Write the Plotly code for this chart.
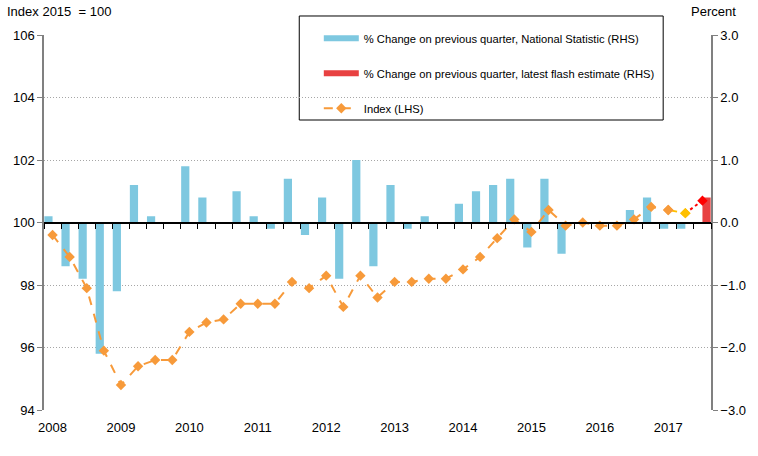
import plotly.graph_objects as go

years = list(range(2008, 2018))
quarters = [f"{y} Q{q}" for y in years for q in range(1, 5)][:39]
year_ticks = [f"{y} Q1" for y in years]
year_labels = [str(y) for y in years]

pct_national = [0.1, -0.7, -0.9, -2.1,
                -1.1, 0.6, 0.1, 0.0,
                0.9, 0.4, 0.0, 0.5,
                0.1, -0.1, 0.7, -0.2,
                0.4, -0.9, 1.0, -0.7,
                0.6, -0.1, 0.1, 0.0,
                0.3, 0.5, 0.6, 0.7,
                -0.4, 0.7, -0.5, 0.0,
                0.0, 0.0, 0.2, 0.4,
                -0.1, -0.1, None]
pct_flash = [None] * 38 + [0.4]
index_vals = [99.6, 98.9, 97.9, 95.9,
              94.8, 95.4, 95.6, 95.6,
              96.5, 96.8, 96.9, 97.4,
              97.4, 97.4, 98.1, 97.9,
              98.3, 97.3, 98.3, 97.6,
              98.1, 98.1, 98.2, 98.2,
              98.5, 98.9, 99.5, 100.1,
              99.7, 100.4, 99.9, 100.0,
              99.9, 99.9, 100.1, 100.5,
              100.4, 100.3, 100.7]

BLUE = "#7EC8E0"
RED = "#E84141"
ORANGE = "#F79A3A"
YELLOW = "#FFC000"
BRIGHT_RED = "#FF0000"
FONT = "Liberation Sans, Arial, sans-serif"

fig = go.Figure()

# legend-only entries (styled like the reference legend)
fig.add_trace(go.Scatter(x=[None], y=[None], mode="lines",
                         line=dict(color=BLUE, width=6),
                         name="% Change on previous quarter, National Statistic (RHS)",
                         legendgroup="a", yaxis="y"))
fig.add_trace(go.Scatter(x=[None], y=[None], mode="lines",
                         line=dict(color=RED, width=6),
                         name="% Change on previous quarter, latest flash estimate (RHS)",
                         legendgroup="b", yaxis="y"))

# bars on the right-hand axis (primary y)
fig.add_trace(go.Bar(x=quarters, y=pct_national, marker=dict(color=BLUE, line=dict(width=0)),
                     showlegend=False, yaxis="y", offsetgroup="1"))
fig.add_trace(go.Bar(x=quarters, y=pct_flash, marker=dict(color=RED, line=dict(width=0)),
                     showlegend=False, yaxis="y", offsetgroup="2"))

# zero line with quarter ticks
fig.add_trace(go.Scatter(x=quarters, y=[None] * len(quarters), xaxis="x2", yaxis="y",
                         showlegend=False, hoverinfo="skip"))

# index line on the left-hand axis (overlaying)
fig.add_trace(go.Scatter(x=quarters[36:38], y=index_vals[36:38], mode="lines+markers",
                         line=dict(color=YELLOW, width=2, dash="dash"),
                         marker=dict(symbol="diamond", size=8, color=[ORANGE, YELLOW],
                                     line=dict(width=0)),
                         showlegend=False, yaxis="y2"))
fig.add_trace(go.Scatter(x=quarters[37:39], y=index_vals[37:39], mode="lines+markers",
                         line=dict(color=BRIGHT_RED, width=2, dash="3px,3px"),
                         marker=dict(symbol="diamond", size=8, color=[YELLOW, BRIGHT_RED],
                                     line=dict(width=0)),
                         showlegend=False, yaxis="y2"))
fig.add_trace(go.Scatter(x=quarters[:37], y=index_vals[:37], mode="lines+markers",
                         line=dict(color=ORANGE, width=2, dash="dash"),
                         marker=dict(symbol="diamond", size=8, color=ORANGE, line=dict(width=0)),
                         name="Index (LHS)", legendgroup="c", yaxis="y2"))

fig.update_layout(
    width=758, height=456,
    margin=dict(l=44, r=45, t=35, b=46),
    paper_bgcolor="white", plot_bgcolor="white",
    font=dict(family=FONT, size=13, color="black"),
    barmode="group", bargap=0.04, bargroupgap=0,
    showlegend=True,
    legend=dict(x=0.412, y=1.030, xanchor="left", yanchor="top",
                borderwidth=0, bgcolor="rgba(0,0,0,0)",
                font=dict(family=FONT, size=11.2),
                traceorder="grouped", tracegroupgap=16, itemwidth=35,
                entrywidth=300, entrywidthmode="pixels"),
    xaxis=dict(type="category", categoryorder="array", categoryarray=quarters,
               range=[-0.5, 38.5], tickmode="array", tickvals=year_ticks,
               ticktext=year_labels, showline=False, ticks="", showgrid=False,
               zeroline=False, tickfont=dict(size=13), ticklabelstandoff=8),
    xaxis2=dict(type="category", overlaying="x", anchor="free", position=0.5,
                categoryorder="array", categoryarray=quarters,
                range=[-0.5, 38.5], showticklabels=False, ticks="outside",
                tickmode="linear", tick0=0, dtick=1,
                tickson="boundaries", ticklen=6, tickcolor="black", tickwidth=1,
                showline=True, linecolor="black", linewidth=1.5,
                layer="above traces", showgrid=False, zeroline=False),
    yaxis=dict(side="right", range=[-3, 3], dtick=1, tickformat=".1f",
               showline=True, linecolor="#808080", linewidth=1.5,
               ticks="outside", ticklen=5, tickcolor="#808080",
               showgrid=True, gridcolor="#A6A6A6", griddash="1px,2px", gridwidth=1,
               zeroline=False, tickfont=dict(size=13)),
    yaxis2=dict(overlaying="y", side="left", range=[94, 106], dtick=2,
                showline=True, linecolor="#808080", linewidth=1.5,
                ticks="outside", ticklen=5, tickcolor="#808080",
                showgrid=False, zeroline=False, tickfont=dict(size=13)),
    shapes=[
        dict(type="rect", xref="paper", yref="paper",
             x0=0.3827, x1=0.9283, y0=0.7733, y1=1.0507,
             line=dict(color="black", width=1), fillcolor="white", layer="between"),
    ],
    annotations=[
        dict(text="Index 2015  = 100", x=0, y=1, xref="paper", yref="paper",
             xanchor="left", yanchor="bottom", xshift=-39, yshift=14,
             showarrow=False, font=dict(size=13)),
        dict(text="Percent", x=1, y=1, xref="paper", yref="paper",
             xanchor="right", yanchor="bottom", xshift=27, yshift=14,
             showarrow=False, font=dict(size=13)),
    ],
)

fig.write_html("out.html", config={"displayModeBar": False},
               post_script="document.body.style.margin='0';")
